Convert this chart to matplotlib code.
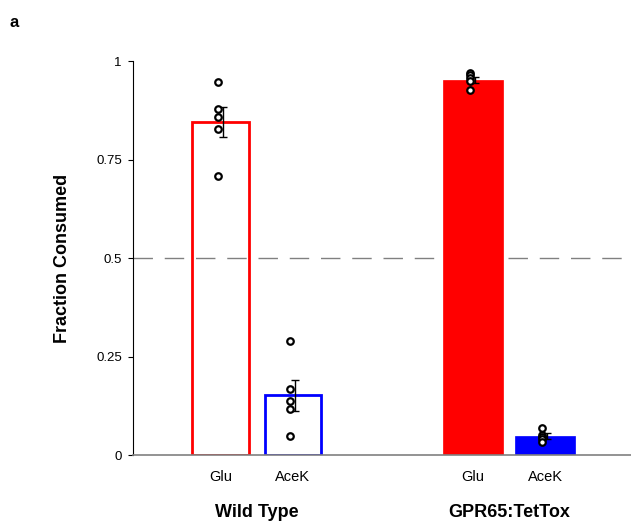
import matplotlib
matplotlib.use("Agg")
import matplotlib.pyplot as plt

plt.rcParams['font.family'] = ['Liberation Sans', 'DejaVu Sans']

# data
conditions = ["Glu", "AceK", "Glu", "AceK"]
groups = ["Wild Type", "GPR65:TetTox"]
means = [0.846, 0.152, 0.953, 0.049]
sems = [0.039, 0.039, 0.007, 0.007]
points = [
    [0.948, 0.878, 0.859, 0.829, 0.709],
    [0.289, 0.168, 0.138, 0.118, 0.048],
    [0.970, 0.965, 0.958, 0.950, 0.928],
    [0.068, 0.052, 0.046, 0.040, 0.034],
]
positions = [0, 1, 3.5, 4.5]
colors = ["red", "blue", "red", "blue"]
filled = [False, False, True, True]

fig = plt.figure(figsize=(6.31, 5.28), dpi=100)
ax = fig.add_axes([0.2108, 0.138, 0.789, 0.746])

for x, m, c, f in zip(positions, means, colors, filled):
    if f:
        ax.bar(x, m, width=0.83, color=c, edgecolor=c, linewidth=0.5, zorder=2)
    else:
        ax.bar(x, m, width=0.78, facecolor="none", edgecolor=c, linewidth=2, zorder=2)

for x, m, s, pts in zip(positions, means, sems, points):
    ax.errorbar(x + 0.03, m, yerr=s, color="black", capsize=3, linewidth=1,
                capthick=1, zorder=3)
    ax.scatter([x - 0.04] * len(pts), pts, s=22, facecolor="white",
               edgecolor="black", linewidth=1.6, zorder=4)

ax.axhline(0.5, color="gray", linestyle=(0, (14, 8.5)), linewidth=1, zorder=1)

ax.set_xlim(-1.215, 5.69)
ax.set_ylim(0, 1)
ax.set_yticks([0, 0.25, 0.5, 0.75, 1])
ax.set_yticklabels(["0", "0.25", "0.5", "0.75", "1"], fontsize=9.5)
ax.set_xticks(positions)
ax.set_xticklabels(conditions, fontsize=10.5)
ax.tick_params(axis="x", length=0, pad=11)
ax.tick_params(axis="y", length=3.6, width=0.8, pad=4.5)

ax.spines["top"].set_visible(False)
ax.spines["right"].set_visible(False)
ax.spines["bottom"].set_color("gray")
ax.spines["bottom"].set_linewidth(1.2)
ax.spines["left"].set_linewidth(0.8)

group_x = [(positions[0] + positions[1]) / 2, (positions[2] + positions[3]) / 2]
for gx, g in zip(group_x, groups):
    ax.text(gx, -0.145, g, ha="center", va="center", fontsize=13,
            fontweight="bold", transform=ax.get_xaxis_transform())

ax.set_ylabel("Fraction Consumed", fontsize=13, fontweight="bold", labelpad=18)

fig.text(0.023, 0.958, "a", fontsize=12, fontweight="bold", ha="center", va="center")

fig.savefig("out.png", dpi=100)
